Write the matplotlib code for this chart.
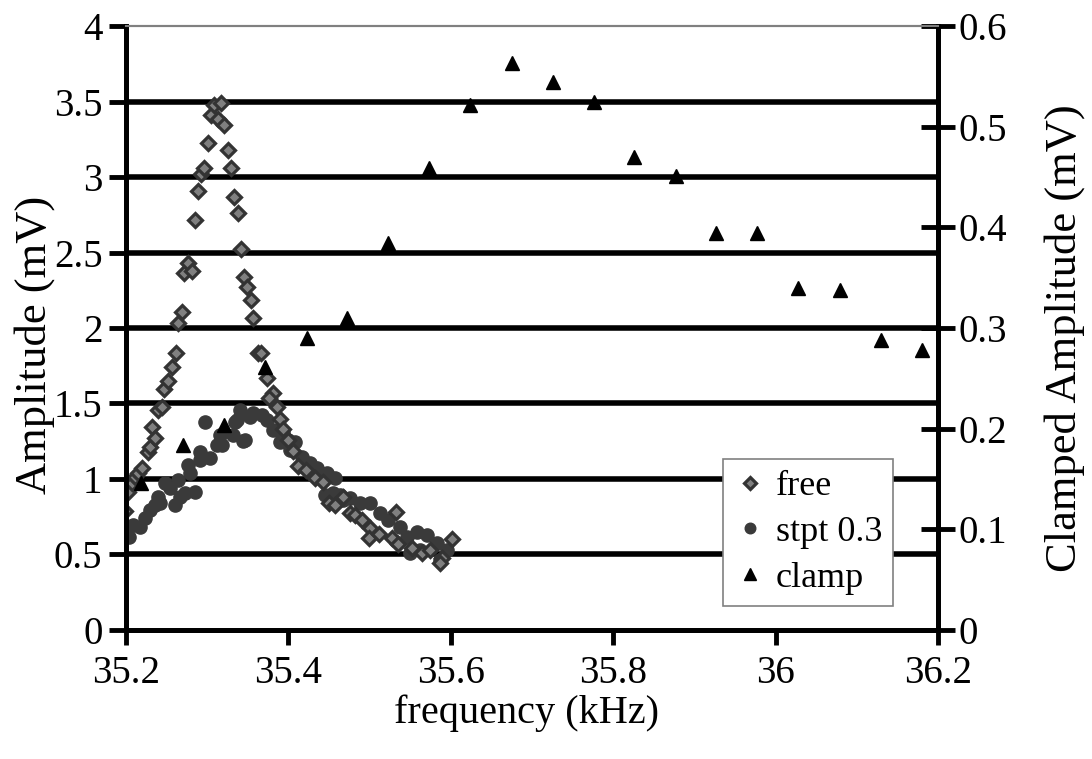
import matplotlib
matplotlib.use("Agg")
import matplotlib.pyplot as plt
import numpy as np
from matplotlib.ticker import FuncFormatter

plt.rcParams['font.family'] = ['Liberation Serif', 'DejaVu Serif']

# free (left axis)
free_f = [35.199, 35.202, 35.207, 35.211, 35.215, 35.220, 35.227, 35.230, 35.232, 35.236,
          35.239, 35.244, 35.247, 35.252, 35.257, 35.262, 35.264, 35.269, 35.271, 35.276,
          35.281, 35.285, 35.289, 35.292, 35.296, 35.301, 35.305, 35.308, 35.313, 35.317,
          35.321, 35.326, 35.329, 35.333, 35.338, 35.342, 35.345, 35.349, 35.354, 35.356,
          35.363, 35.366, 35.374, 35.381, 35.376, 35.386, 35.390, 35.393, 35.400, 35.406,
          35.412, 35.422, 35.433, 35.443, 35.450, 35.457, 35.467, 35.476, 35.482, 35.491,
          35.500, 35.499, 35.512, 35.533, 35.528, 35.535, 35.552, 35.565, 35.574, 35.589,
          35.587, 35.601]
free_a = [0.788, 0.914, 0.974, 1.013, 1.040, 1.073, 1.179, 1.212, 1.344, 1.272,
          1.457, 1.477, 1.596, 1.649, 1.742, 1.834, 2.033, 2.106, 2.364, 2.430,
          2.377, 2.715, 2.907, 3.020, 3.060, 3.225, 3.411, 3.477, 3.384, 3.490,
          3.344, 3.179, 3.060, 2.868, 2.762, 2.523, 2.338, 2.272, 2.185, 2.066,
          1.834, 1.834, 1.669, 1.570, 1.536, 1.477, 1.397, 1.331, 1.258, 1.185,
          1.086, 1.060, 1.007, 0.980, 0.841, 0.828, 0.881, 0.775, 0.762, 0.728,
          0.675, 0.609, 0.636, 0.781, 0.609, 0.570, 0.543, 0.510, 0.530, 0.477,
          0.444, 0.603]

# stpt 0.3 (left axis)
stpt_f = [35.204, 35.209, 35.217, 35.223, 35.230, 35.236, 35.242, 35.239, 35.248, 35.254,
          35.260, 35.267, 35.273, 35.285, 35.264, 35.279, 35.276, 35.291, 35.291, 35.303,
          35.312, 35.318, 35.316, 35.297, 35.344, 35.337, 35.340, 35.334, 35.332, 35.353,
          35.356, 35.367, 35.374, 35.347, 35.381, 35.390, 35.400, 35.393, 35.402, 35.408,
          35.417, 35.427, 35.435, 35.448, 35.457, 35.445, 35.455, 35.467, 35.464, 35.476,
          35.488, 35.500, 35.513, 35.523, 35.537, 35.546, 35.558, 35.571, 35.550, 35.562,
          35.583, 35.595, 35.587]
stpt_a = [0.616, 0.695, 0.682, 0.742, 0.795, 0.828, 0.841, 0.881, 0.974, 0.940,
          0.828, 0.881, 0.907, 0.914, 0.993, 1.040, 1.093, 1.126, 1.179, 1.139,
          1.225, 1.225, 1.291, 1.377, 1.252, 1.391, 1.457, 1.377, 1.291, 1.411,
          1.437, 1.424, 1.391, 1.258, 1.325, 1.245, 1.258, 1.311, 1.192, 1.245,
          1.146, 1.106, 1.073, 1.040, 1.007, 0.894, 0.907, 0.861, 0.894, 0.874,
          0.841, 0.841, 0.775, 0.728, 0.682, 0.616, 0.649, 0.629, 0.510, 0.530,
          0.576, 0.530, 0.464]

# clamp (right axis)
clamp_f = [35.218, 35.270, 35.321, 35.371, 35.423, 35.472, 35.523, 35.573, 35.624, 35.675,
           35.726, 35.776, 35.826, 35.877, 35.927, 35.977, 36.028, 36.079, 36.130, 36.180]
clamp_a = [0.146, 0.184, 0.204, 0.261, 0.290, 0.310, 0.384, 0.459, 0.522, 0.563,
           0.544, 0.525, 0.470, 0.451, 0.394, 0.394, 0.340, 0.338, 0.288, 0.278]

fig = plt.figure(figsize=(10.92, 7.59), dpi=100)
ax = fig.add_axes([0.1154, 0.17, 0.7436, 0.7957])
ax2 = ax.twinx()

fmt = FuncFormatter(lambda v, p: ('%g' % round(v, 3)))

ax.set_xlim(35.2, 36.2)
ax.set_ylim(0, 4)
ax.set_yticks(np.arange(0, 4.01, 0.5))
ax.set_xticks([35.2, 35.4, 35.6, 35.8, 36.0, 36.2])
ax.xaxis.set_major_formatter(fmt)
ax.yaxis.set_major_formatter(fmt)
for g in np.arange(0.5, 3.6, 0.5):
    ax.axhline(g, color='black', lw=4, zorder=0)

ax2.set_ylim(0, 0.6)
ax2.set_yticks(np.arange(0, 0.61, 0.1))
ax2.yaxis.set_major_formatter(fmt)

p1, = ax.plot(stpt_f, stpt_a, 'o', ms=9.5, color='#3a3a3a', mec='#3a3a3a', zorder=2, label='stpt 0.3')
p0, = ax.plot(free_f, free_a, 'D', ms=7.5, mfc='#808080', mec='#333333', mew=2.3, zorder=3, label='free')
p2, = ax2.plot(clamp_f, clamp_a, '^', ms=10.5, color='black', zorder=4, label='clamp')

for a in (ax, ax2):
    for s in ('left', 'right', 'bottom'):
        a.spines[s].set_linewidth(3.5)
    a.spines['top'].set_color('#808080')
    a.spines['top'].set_linewidth(1.5)

ax.tick_params(axis='y', direction='out', length=12, width=3.5, labelsize=28, pad=5)
ax.tick_params(axis='x', direction='out', length=11, width=3.5, labelsize=28, pad=7)
ax2.tick_params(axis='y', direction='inout', length=24, width=3.5, labelsize=28, pad=3)

fig.text(527 / 1092, 1 - 713 / 759, 'frequency (kHz)', fontsize=29, ha='center', va='center')
fig.text(35 / 1092, 1 - 345 / 759, 'Amplitude (mV)', fontsize=32, rotation=90, ha='center', va='center')
fig.text(1065 / 1092, 1 - 338 / 759, 'Clamped Amplitude (mV)', fontsize=32, rotation=90, ha='center', va='center')

leg = ax2.legend([p0, p1, p2], ['free', 'stpt 0.3', 'clamp'], loc='lower right',
                 bbox_to_anchor=(0.9446, 0.04), borderaxespad=0, fontsize=26, fancybox=False,
                 edgecolor='#808080', framealpha=1, handlelength=0.9,
                 handletextpad=0.25, borderpad=0.3, labelspacing=0.35, markerscale=0.8)
leg.get_frame().set_linewidth(1.2)

fig.savefig('out.png', dpi=100)
